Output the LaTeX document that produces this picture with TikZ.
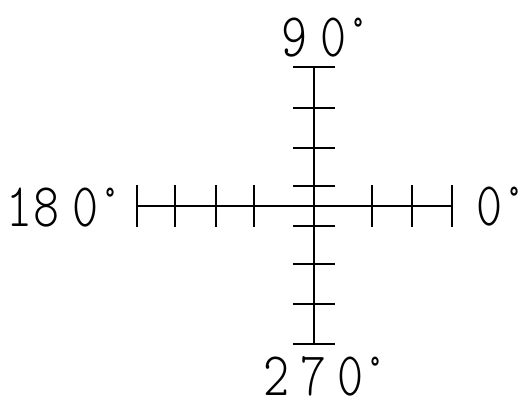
\documentclass[tikz,border=0pt]{standalone}
\usepackage{fontspec}
\setmonofont[FakeStretch=0.8]{lmmonolt10-regular.otf}
\newcommand{\gp}{\hspace{13pt}}
\newcommand{\gq}{\hspace{11pt}}
\newcommand{\gd}{\hspace{-1pt}}
\begin{document}
\begin{tikzpicture}[x=1pt,y=-1pt,
  axis/.style={line width=1.6pt,black},
  lbl/.style={inner sep=0pt,anchor=base west,font=\ttfamily\fontsize{62}{62}\selectfont}]
\useasboundingbox (0,0) rectangle (524,401);
% axes
\coordinate (top) at (314,67);
\coordinate (bot) at (314,344);
\coordinate (left) at (137,206);
\coordinate (right) at (452,206);
\draw[axis] (top) -- (bot);
\draw[axis] (left) -- (right);
% ticks on vertical axis
\foreach \y in {67,108,148,186,226,264,304,344}
  \draw[axis] (293,\y) -- (335,\y);
% ticks on horizontal axis
\foreach \x in {137,175,216,254,372,412,452}
  \draw[axis] (\x,185) -- (\x,227);
% labels
\node[lbl] (n90) at (281,57) {9\gp0\gd°};
\node[lbl] (n180) at (6,226) {1\hspace{1pt}8\gp0\gd°};
\node[lbl] (n0) at (476,225) {0\gd°};
\node[lbl] (n270) at (263,395) {2\gq7\gq0\gd°};
\end{tikzpicture}
\end{document}
